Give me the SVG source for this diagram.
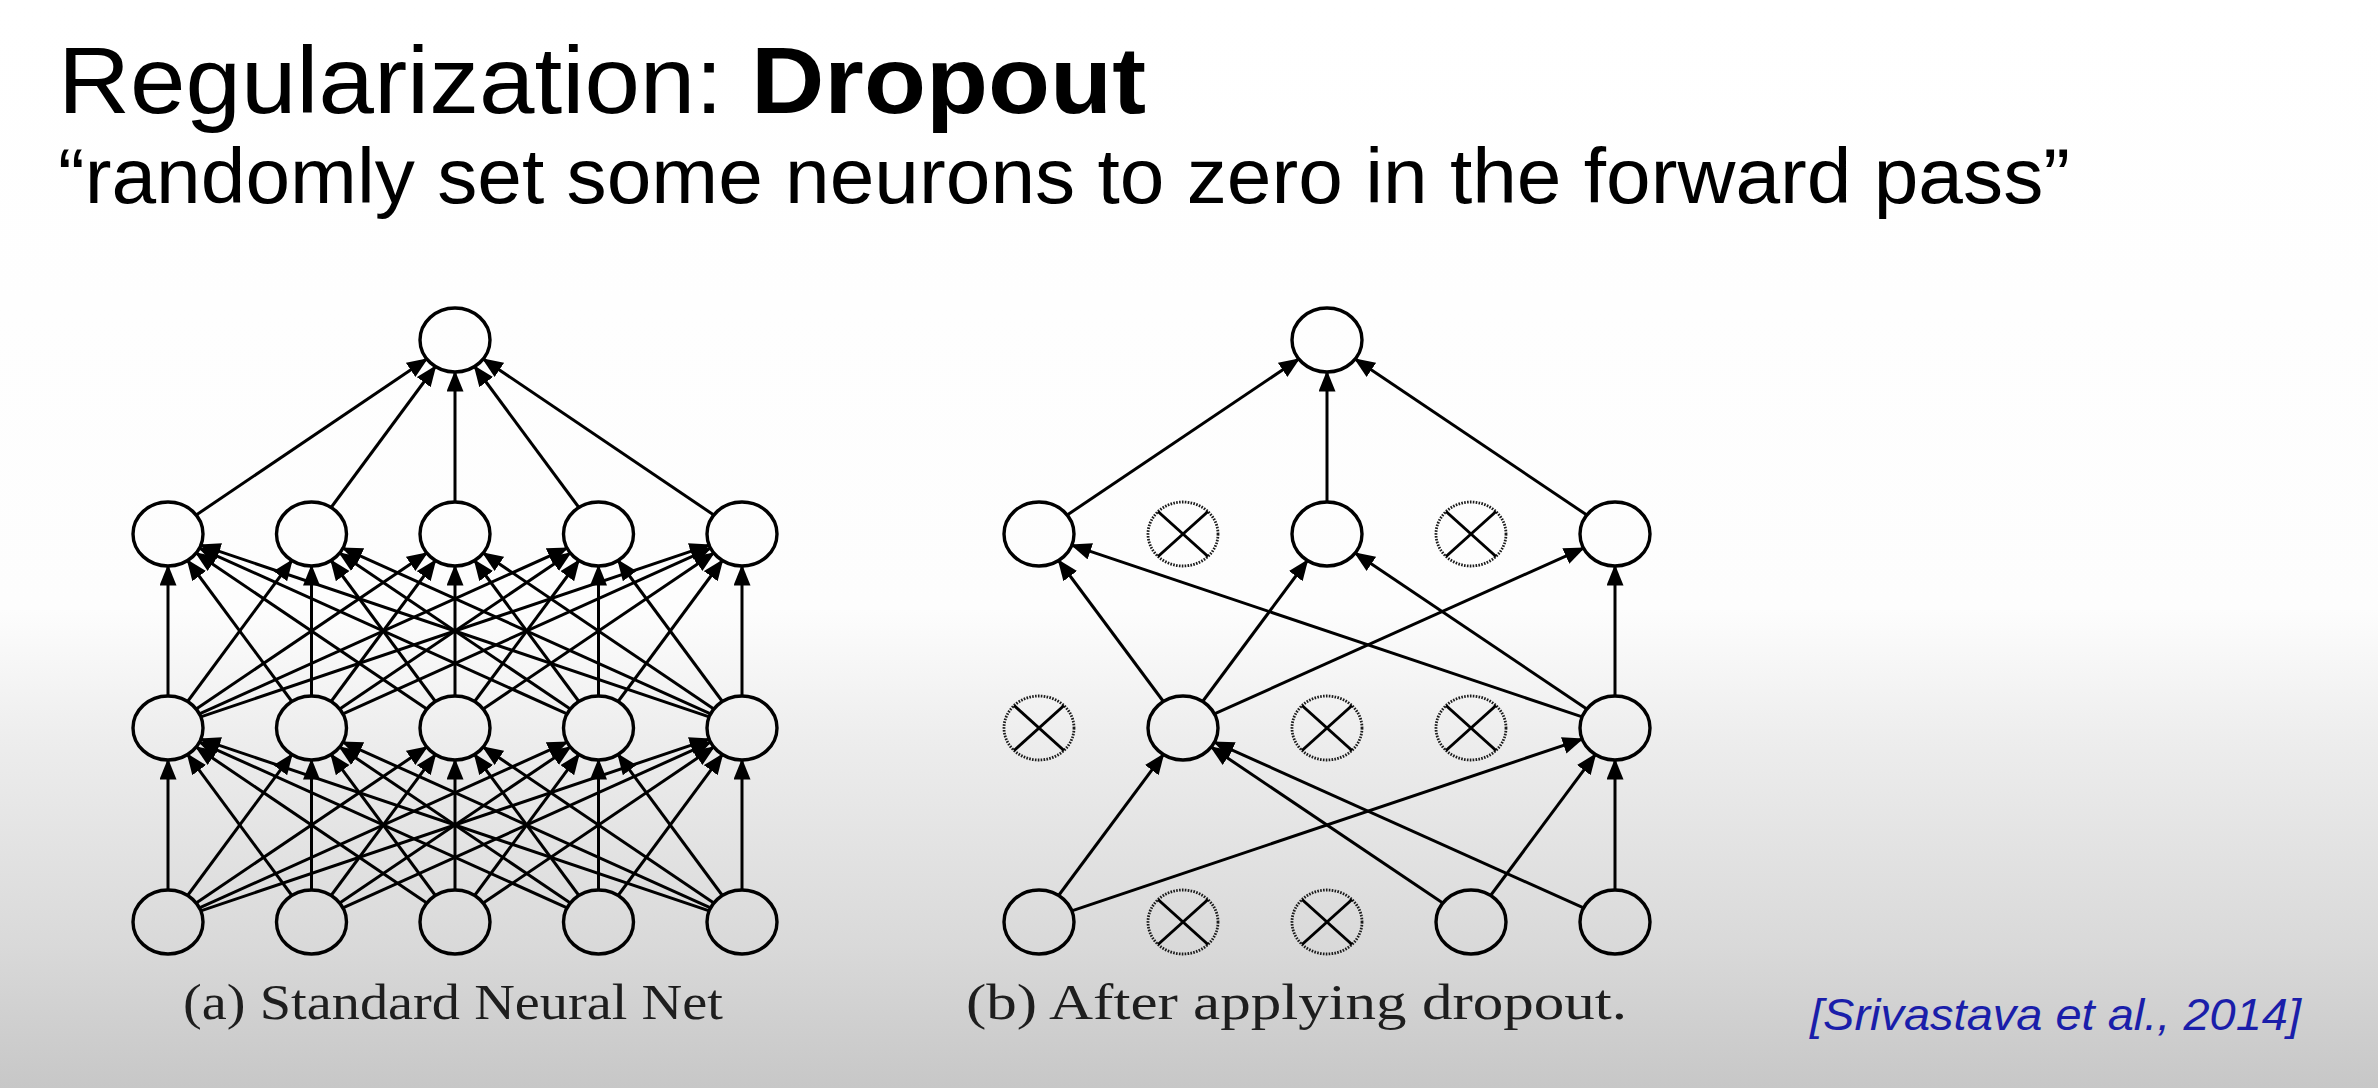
<svg xmlns="http://www.w3.org/2000/svg" xmlns:xlink="http://www.w3.org/1999/xlink" width="2378" height="1088" viewBox="0 0 2378 1088">
<defs>
  <linearGradient id="bg" x1="0" y1="0" x2="0" y2="1">
    <stop offset="0" stop-color="#ffffff"/>
    <stop offset="0.56" stop-color="#fdfdfd"/>
    <stop offset="0.68" stop-color="#ededed"/>
    <stop offset="0.87" stop-color="#d9d9d9"/>
    <stop offset="1" stop-color="#c7c7c7"/>
  </linearGradient>
  <marker id="arr" markerUnits="userSpaceOnUse" markerWidth="24" markerHeight="18" refX="19.5" refY="8.5" orient="auto">
    <path d="M0,0 L21,8.5 L0,17 z" fill="#000"/>
  </marker>
  <g id="dropShape">
    <ellipse cx="0" cy="0" rx="35" ry="32" class="drop"/>
    <line x1="-25" y1="-22.5" x2="25" y2="22.5" class="xl"/>
    <line x1="-25" y1="22.5" x2="25" y2="-22.5" class="xl"/>
  </g>
  <style>
    .node{fill:none;stroke:#000;stroke-width:3.4}
    .drop{fill:none;stroke:#1a1a1a;stroke-width:2.8;stroke-dasharray:1.6 1.3}
    .xl{stroke:#000;stroke-width:3}
    .edge line{stroke:#000;stroke-width:3;marker-end:url(#arr)}
    .title{font-family:"Liberation Sans",Arial,sans-serif;fill:#000}
    .cap{font-family:"Liberation Serif","Times New Roman",serif;fill:#1e1e1e}
    .cite{font-family:"Liberation Sans",Arial,sans-serif;font-style:italic;fill:#1a1eaa}
  </style>
</defs>

<rect x="0" y="0" width="2378" height="1088" fill="url(#bg)"/>

<text class="title" x="58" y="113" font-size="95" textLength="665" lengthAdjust="spacingAndGlyphs">Regularization:</text>
<text class="title" x="751" y="113" font-size="95" font-weight="bold" textLength="395" lengthAdjust="spacingAndGlyphs">Dropout</text>
<text class="title" x="58" y="203" font-size="77" textLength="2012" lengthAdjust="spacingAndGlyphs">“randomly set some neurons to zero in the forward pass”</text>

<g id="connectors" class="edge">
  <!-- left: hidden2 -> output -->
  <line x1="196.2" y1="515" x2="426.8" y2="359"/>
  <line x1="331.1" y1="507.5" x2="435.4" y2="366.5"/>
  <line x1="455" y1="502" x2="455" y2="372"/>
  <line x1="578.9" y1="507.5" x2="474.6" y2="366.5"/>
  <line x1="713.8" y1="515" x2="483.2" y2="359"/>
  <!-- left: hidden1 -> hidden2 -->
  <line x1="168" y1="696" x2="168" y2="566"/>
  <line x1="187.6" y1="701.5" x2="291.9" y2="560.5"/>
  <line x1="196.2" y1="709" x2="426.8" y2="553"/>
  <line x1="199.4" y1="713.9" x2="567.1" y2="548.1"/>
  <line x1="200.8" y1="716.9" x2="709.2" y2="545.1"/>
  <line x1="291.9" y1="701.5" x2="187.6" y2="560.5"/>
  <line x1="311.5" y1="696" x2="311.5" y2="566"/>
  <line x1="331.1" y1="701.5" x2="435.4" y2="560.5"/>
  <line x1="339.7" y1="709" x2="570.3" y2="553"/>
  <line x1="342.9" y1="713.9" x2="710.6" y2="548.1"/>
  <line x1="426.8" y1="709" x2="196.2" y2="553"/>
  <line x1="435.4" y1="701.5" x2="331.1" y2="560.5"/>
  <line x1="455" y1="696" x2="455" y2="566"/>
  <line x1="474.6" y1="701.5" x2="578.9" y2="560.5"/>
  <line x1="483.2" y1="709" x2="713.8" y2="553"/>
  <line x1="567.1" y1="713.9" x2="199.4" y2="548.1"/>
  <line x1="570.3" y1="709" x2="339.7" y2="553"/>
  <line x1="578.9" y1="701.5" x2="474.6" y2="560.5"/>
  <line x1="598.5" y1="696" x2="598.5" y2="566"/>
  <line x1="618.1" y1="701.5" x2="722.4" y2="560.5"/>
  <line x1="709.2" y1="716.9" x2="200.8" y2="545.1"/>
  <line x1="710.6" y1="713.9" x2="342.9" y2="548.1"/>
  <line x1="713.8" y1="709" x2="483.2" y2="553"/>
  <line x1="722.4" y1="701.5" x2="618.1" y2="560.5"/>
  <line x1="742" y1="696" x2="742" y2="566"/>
  <!-- left: input -> hidden1 -->
  <line x1="168" y1="890" x2="168" y2="760"/>
  <line x1="187.6" y1="895.5" x2="291.9" y2="754.5"/>
  <line x1="196.2" y1="903" x2="426.8" y2="747"/>
  <line x1="199.4" y1="907.9" x2="567.1" y2="742.1"/>
  <line x1="200.8" y1="910.9" x2="709.2" y2="739.1"/>
  <line x1="291.9" y1="895.5" x2="187.6" y2="754.5"/>
  <line x1="311.5" y1="890" x2="311.5" y2="760"/>
  <line x1="331.1" y1="895.5" x2="435.4" y2="754.5"/>
  <line x1="339.7" y1="903" x2="570.3" y2="747"/>
  <line x1="342.9" y1="907.9" x2="710.6" y2="742.1"/>
  <line x1="426.8" y1="903" x2="196.2" y2="747"/>
  <line x1="435.4" y1="895.5" x2="331.1" y2="754.5"/>
  <line x1="455" y1="890" x2="455" y2="760"/>
  <line x1="474.6" y1="895.5" x2="578.9" y2="754.5"/>
  <line x1="483.2" y1="903" x2="713.8" y2="747"/>
  <line x1="567.1" y1="907.9" x2="199.4" y2="742.1"/>
  <line x1="570.3" y1="903" x2="339.7" y2="747"/>
  <line x1="578.9" y1="895.5" x2="474.6" y2="754.5"/>
  <line x1="598.5" y1="890" x2="598.5" y2="760"/>
  <line x1="618.1" y1="895.5" x2="722.4" y2="754.5"/>
  <line x1="709.2" y1="910.9" x2="200.8" y2="739.1"/>
  <line x1="710.6" y1="907.9" x2="342.9" y2="742.1"/>
  <line x1="713.8" y1="903" x2="483.2" y2="747"/>
  <line x1="722.4" y1="895.5" x2="618.1" y2="754.5"/>
  <line x1="742" y1="890" x2="742" y2="760"/>
  <!-- right: hidden2 -> output -->
  <line x1="1067.2" y1="515" x2="1298.8" y2="359"/>
  <line x1="1327" y1="502" x2="1327" y2="372"/>
  <line x1="1586.8" y1="515" x2="1355.2" y2="359"/>
  <!-- right: hidden1 -> hidden2 -->
  <line x1="1163.4" y1="701.5" x2="1058.6" y2="560.5"/>
  <line x1="1202.6" y1="701.5" x2="1307.4" y2="560.5"/>
  <line x1="1214.4" y1="713.9" x2="1583.6" y2="548.1"/>
  <line x1="1582.2" y1="716.9" x2="1071.8" y2="545.1"/>
  <line x1="1586.8" y1="709" x2="1355.2" y2="553"/>
  <line x1="1615" y1="696" x2="1615" y2="566"/>
  <!-- right: input -> hidden1 -->
  <line x1="1058.6" y1="895.5" x2="1163.4" y2="754.5"/>
  <line x1="1071.8" y1="910.9" x2="1582.2" y2="739.1"/>
  <line x1="1442.8" y1="903" x2="1211.2" y2="747"/>
  <line x1="1490.6" y1="895.5" x2="1595.4" y2="754.5"/>
  <line x1="1583.6" y1="907.9" x2="1214.4" y2="742.1"/>
  <line x1="1615" y1="890" x2="1615" y2="760"/>
</g>

<!-- left network nodes -->
<g id="a-out"><ellipse class="node" cx="455" cy="340" rx="35" ry="32"/></g>
<g id="a-h2-0"><ellipse class="node" cx="168" cy="534" rx="35" ry="32"/></g>
<g id="a-h2-1"><ellipse class="node" cx="311.5" cy="534" rx="35" ry="32"/></g>
<g id="a-h2-2"><ellipse class="node" cx="455" cy="534" rx="35" ry="32"/></g>
<g id="a-h2-3"><ellipse class="node" cx="598.5" cy="534" rx="35" ry="32"/></g>
<g id="a-h2-4"><ellipse class="node" cx="742" cy="534" rx="35" ry="32"/></g>
<g id="a-h1-0"><ellipse class="node" cx="168" cy="728" rx="35" ry="32"/></g>
<g id="a-h1-1"><ellipse class="node" cx="311.5" cy="728" rx="35" ry="32"/></g>
<g id="a-h1-2"><ellipse class="node" cx="455" cy="728" rx="35" ry="32"/></g>
<g id="a-h1-3"><ellipse class="node" cx="598.5" cy="728" rx="35" ry="32"/></g>
<g id="a-h1-4"><ellipse class="node" cx="742" cy="728" rx="35" ry="32"/></g>
<g id="a-in-0"><ellipse class="node" cx="168" cy="922" rx="35" ry="32"/></g>
<g id="a-in-1"><ellipse class="node" cx="311.5" cy="922" rx="35" ry="32"/></g>
<g id="a-in-2"><ellipse class="node" cx="455" cy="922" rx="35" ry="32"/></g>
<g id="a-in-3"><ellipse class="node" cx="598.5" cy="922" rx="35" ry="32"/></g>
<g id="a-in-4"><ellipse class="node" cx="742" cy="922" rx="35" ry="32"/></g>

<!-- right network nodes -->
<g id="b-out"><ellipse class="node" cx="1327" cy="340" rx="35" ry="32"/></g>
<g id="b-h2-0"><ellipse class="node" cx="1039" cy="534" rx="35" ry="32"/></g>
<g id="b-h2-1"><use href="#dropShape" xlink:href="#dropShape" x="1183" y="534"/></g>
<g id="b-h2-2"><ellipse class="node" cx="1327" cy="534" rx="35" ry="32"/></g>
<g id="b-h2-3"><use href="#dropShape" xlink:href="#dropShape" x="1471" y="534"/></g>
<g id="b-h2-4"><ellipse class="node" cx="1615" cy="534" rx="35" ry="32"/></g>
<g id="b-h1-0"><use href="#dropShape" xlink:href="#dropShape" x="1039" y="728"/></g>
<g id="b-h1-1"><ellipse class="node" cx="1183" cy="728" rx="35" ry="32"/></g>
<g id="b-h1-2"><use href="#dropShape" xlink:href="#dropShape" x="1327" y="728"/></g>
<g id="b-h1-3"><use href="#dropShape" xlink:href="#dropShape" x="1471" y="728"/></g>
<g id="b-h1-4"><ellipse class="node" cx="1615" cy="728" rx="35" ry="32"/></g>
<g id="b-in-0"><ellipse class="node" cx="1039" cy="922" rx="35" ry="32"/></g>
<g id="b-in-1"><use href="#dropShape" xlink:href="#dropShape" x="1183" y="922"/></g>
<g id="b-in-2"><use href="#dropShape" xlink:href="#dropShape" x="1327" y="922"/></g>
<g id="b-in-3"><ellipse class="node" cx="1471" cy="922" rx="35" ry="32"/></g>
<g id="b-in-4"><ellipse class="node" cx="1615" cy="922" rx="35" ry="32"/></g>

<text class="cap" x="183" y="1019" font-size="50" textLength="540" lengthAdjust="spacingAndGlyphs">(a) Standard Neural Net</text>
<text class="cap" x="966" y="1019" font-size="50" textLength="661" lengthAdjust="spacingAndGlyphs">(b) After applying dropout.</text>
<text class="cite" x="1810" y="1030" font-size="45" textLength="491" lengthAdjust="spacingAndGlyphs">[Srivastava et al., 2014]</text>
</svg>
